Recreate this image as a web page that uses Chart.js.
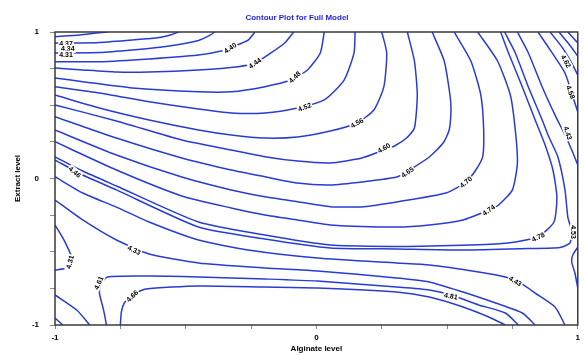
<!DOCTYPE html>
<html lang="en">
<head>
  <meta charset="UTF-8" />
  <title>Contour Plot for Full Model</title>
  <script src="https://cdn.jsdelivr.net/npm/chart.js@4"></script>
  <style>
    html, body { margin: 0; padding: 0; background: #fff; overflow: hidden; }
    canvas { display: block; }
  </style>
</head>
<body>
  <canvas id="contourChart" width="584" height="355"></canvas>
  <script>
    const titleText = "Contour Plot for Full Model";
    const xTitle = "Alginate level";
    const yTitle = "Extract level";
    const tickLabels = [-1, 0, 1];

    // contour lines as [alginate, extract] pairs
    const paths = [
      [[-1,0.968],[-0.905,0.980],[-0.841,0.993],[-0.799,1]],
      [[-1,0.925],[-0.905,0.925],[-0.83,0.928],[-0.705,0.945],[-0.602,0.962],[-0.553,0.983],[-0.527,1]],
      [[-1,0.857],[-0.83,0.86],[-0.705,0.877],[-0.576,0.901],[-0.451,0.942],[-0.405,0.98],[-0.39,1]],
      [[-1,0.797],[-0.83,0.797],[-0.64,0.816],[-0.451,0.843],[-0.364,0.87],[-0.318,0.901],[-0.261,0.945],[-0.235,1]],
      [[-1,0.754],[-0.894,0.741],[-0.765,0.727],[-0.64,0.727],[-0.451,0.741],[-0.299,0.763],[-0.235,0.788],[-0.174,0.857],[-0.121,0.925],[-0.087,1]],
      [[-1,0.686],[-0.894,0.661],[-0.705,0.618],[-0.451,0.592],[-0.326,0.592],[-0.197,0.627],[-0.098,0.672],[-0.034,0.741],[0.015,0.857],[0.03,1]],
      [[-1,0.627],[-0.83,0.584],[-0.64,0.524],[-0.451,0.474],[-0.326,0.447],[-0.197,0.447],[-0.072,0.481],[0.03,0.536],[0.106,0.672],[0.144,0.857],[0.148,1]],
      [[-1,0.57],[-0.83,0.481],[-0.64,0.399],[-0.451,0.331],[-0.326,0.297],[-0.197,0.276],[-0.072,0.283],[0.053,0.324],[0.155,0.379],[0.22,0.468],[0.258,0.625],[0.269,0.857],[0.25,1]],
      [[-1,0.502],[-0.765,0.393],[-0.515,0.263],[-0.326,0.195],[-0.197,0.149],[-0.072,0.119],[0.053,0.106],[0.174,0.14],[0.258,0.195],[0.299,0.222],[0.345,0.276],[0.375,0.345],[0.386,0.57],[0.375,0.802],[0.348,1]],
      [[-1,0.422],[-0.765,0.276],[-0.515,0.14],[-0.326,0.058],[-0.197,0.012],[-0.072,-0.031],[0.053,-0.044],[0.182,-0.022],[0.307,0.01],[0.356,0.058],[0.432,0.147],[0.485,0.242],[0.508,0.331],[0.515,0.468],[0.511,0.57],[0.489,0.802],[0.443,1]],
      [[-1,0.331],[-0.765,0.16],[-0.515,0.01],[-0.326,-0.078],[-0.197,-0.124],[-0.072,-0.158],[0.053,-0.192],[0.182,-0.192],[0.307,-0.16],[0.496,-0.099],[0.572,-0.024],[0.61,0.058],[0.636,0.147],[0.64,0.331],[0.629,0.57],[0.591,0.802],[0.527,1]],
      [[-1,0.251],[-0.765,0.058],[-0.515,-0.119],[-0.326,-0.201],[-0.197,-0.249],[-0.072,-0.283],[0.053,-0.317],[0.307,-0.331],[0.432,-0.317],[0.561,-0.283],[0.659,-0.215],[0.697,-0.181],[0.75,-0.078],[0.769,0.106],[0.761,0.331],[0.742,0.57],[0.693,0.802],[0.617,1]],
      [[-1,0.147],[-0.894,0.051],[-0.765,-0.051],[-0.451,-0.297],[-0.197,-0.386],[0.053,-0.454],[0.307,-0.464],[0.432,-0.461],[0.686,-0.447],[0.761,-0.433],[0.848,-0.399],[0.909,-0.297],[0.92,-0.126],[0.905,0.058],[0.875,0.229],[0.837,0.399],[0.788,0.625],[0.735,0.857],[0.705,1]],
      [[-1,0.126],[-0.894,0.024],[-0.765,-0.078],[-0.451,-0.331],[-0.197,-0.413],[0.053,-0.474],[0.307,-0.481],[0.561,-0.488],[0.811,-0.478],[0.932,-0.471],[0.97,-0.44],[0.977,-0.365],[0.962,-0.263],[0.951,-0.078],[0.924,0.147],[0.886,0.297],[0.864,0.399],[0.811,0.625],[0.761,0.857],[0.72,1]],
      [[1,-0.468],[0.981,-0.522],[0.977,-0.57],[0.989,-0.645],[1,-0.747]],
      [[-1,0.012],[-0.894,-0.099],[-0.765,-0.195],[-0.64,-0.297],[-0.451,-0.42],[-0.261,-0.488],[0.004,-0.543],[0.307,-0.577],[0.432,-0.59],[0.621,-0.638],[0.723,-0.672],[0.78,-0.713],[0.837,-0.782],[0.913,-0.877],[0.951,-1]],
      [[-1,-0.147],[-0.894,-0.283],[-0.765,-0.42],[-0.64,-0.515],[-0.451,-0.577],[-0.197,-0.611],[0.004,-0.631],[0.307,-0.679],[0.432,-0.706],[0.561,-0.775],[0.686,-0.85],[0.788,-0.918],[0.837,-1]],
      [[-1,-0.317],[-0.97,-0.406],[-0.951,-0.474],[-0.936,-0.536],[-0.936,-0.577],[-0.955,-0.611],[-1,-0.625]],
      [[-0.803,-1],[-0.814,-0.898],[-0.83,-0.782],[-0.826,-0.72],[-0.799,-0.672],[-0.64,-0.666],[-0.451,-0.672],[-0.197,-0.686],[0.004,-0.7],[0.307,-0.741],[0.432,-0.761],[0.515,-0.795],[0.621,-0.863],[0.723,-0.918],[0.773,-1]],
      [[-0.75,-1],[-0.746,-0.911],[-0.735,-0.85],[-0.705,-0.795],[-0.652,-0.754],[-0.451,-0.734],[-0.197,-0.741],[0.004,-0.747],[0.307,-0.775],[0.432,-0.809],[0.561,-0.877],[0.659,-0.945],[0.723,-1]],
      [[-1,-0.795],[-0.917,-0.898],[-0.867,-1]],
      [[-1,-0.952],[-0.97,-1]],
      [[0.769,1],[0.811,0.857],[0.864,0.625],[0.913,0.433],[0.951,0.297],[0.977,0.195],[1,0.092]],
      [[0.848,1],[0.902,0.857],[0.951,0.72],[0.989,0.515],[1,0.454]],
      [[0.894,1],[0.939,0.898],[0.977,0.788],[1,0.706]],
      [[0.928,1],[0.966,0.918],[1,0.836]],
      [[0.962,1],[1,0.925]]
    ];

    // contour level labels
    const labelText = ["4.37", "4.34", "4.31", "4.40", "4.44", "4.48", "4.52", "4.56", "4.60", "4.65", "4.70", "4.74", "4.78",
                       "4.46", "4.33", "4.31", "4.61", "4.66", "4.43", "4.81", "4.62", "4.58", "4.43", "4.53"];
    const labelX = [-0.958, -0.951, -0.958, -0.330, -0.235, -0.083, -0.045, 0.155, 0.258, 0.348, 0.572, 0.659, 0.848,
                    -0.924, -0.697, -0.943, -0.833, -0.705, 0.761, 0.515, 0.955, 0.973, 0.962, 0.985];
    const labelY = [0.922, 0.884, 0.846, 0.891, 0.788, 0.693, 0.488, 0.379, 0.208, 0.044, -0.024, -0.215, -0.399,
                    0.044, -0.488, -0.570, -0.713, -0.802, -0.700, -0.802, 0.800, 0.590, 0.310, -0.365];
    const labelAngle = [0, 0, 0, -35, -35, -45, -20, -30, -30, -35, -40, -35, -25,
                        40, 25, -75, -65, -45, 30, 10, 60, 70, 72, 90];

    const lineColor = "rgb(40, 60, 210)";

    const decorations = {
      id: "decorations",
      afterDatasetsDraw(chart) {
        const { ctx, chartArea: a, scales: { x, y } } = chart;
        ctx.save();
        ctx.font = 'bold 7px "Liberation Sans", Arial, sans-serif';
        ctx.textAlign = "center";
        ctx.textBaseline = "middle";
        labelText.forEach((t, i) => {
          ctx.save();
          ctx.translate(x.getPixelForValue(labelX[i]), y.getPixelForValue(labelY[i]));
          ctx.rotate(labelAngle[i] * Math.PI / 180);
          const w = ctx.measureText(t).width;
          ctx.fillStyle = "#fff";
          ctx.fillRect(-w / 2 - 1, -4, w + 2, 8);
          ctx.fillStyle = "#000";
          ctx.fillText(t, 0, 0.5);
          ctx.restore();
        });

        // frame round the plot
        ctx.strokeStyle = "#3a3a3a";
        ctx.lineWidth = 1.5;
        ctx.strokeRect(a.left, a.top, a.right - a.left, a.bottom - a.top);

        ctx.fillStyle = "#1c1ce8";
        ctx.font = 'bold 8px "Liberation Sans", Arial, sans-serif';
        ctx.fillText(titleText, 297, 18);
        ctx.restore();
      }
    };

    const tickFont = { family: '"Liberation Sans", Arial, sans-serif', size: 8, weight: "bold" };
    const titleFont = { family: '"Liberation Sans", Arial, sans-serif', size: 8, weight: "bold" };

    new Chart(document.getElementById("contourChart"), {
      type: "scatter",
      data: {
        datasets: paths.map(p => ({
          data: p.map(([x, y]) => ({ x, y })),
          showLine: true,
          pointRadius: 0,
          borderColor: lineColor,
          borderWidth: 1.5,
          tension: 0.2,
          fill: false
        }))
      },
      options: {
        responsive: false,
        animation: false,
        devicePixelRatio: 1,
        events: [],
        layout: { padding: { top: 32, right: 1, bottom: 0, left: 0 } },
        plugins: { legend: { display: false }, tooltip: { enabled: false } },
        scales: {
          x: {
            type: "linear", min: -1, max: 1,
            ticks: {
              stepSize: 0.25, autoSkip: false, maxRotation: 0, padding: 4,
              color: "#000", font: tickFont,
              callback: v => tickLabels.includes(v) ? String(v) : ""
            },
            grid: { drawOnChartArea: false, tickLength: 4, color: "#888" },
            border: { display: false },
            title: { display: true, text: xTitle, color: "#000", font: titleFont, padding: { top: 0, bottom: 1 } },
            afterFit: s => { s.height = 30; }
          },
          y: {
            type: "linear", min: -1, max: 1,
            ticks: {
              stepSize: 0.25, autoSkip: false, padding: 11,
              color: "#000", font: tickFont,
              callback: v => tickLabels.includes(v) ? String(v) : ""
            },
            grid: { drawOnChartArea: false, tickLength: 5, color: "#888" },
            border: { display: false },
            title: { display: true, text: yTitle, color: "#000", font: titleFont, padding: { top: 13, bottom: 0 } },
            afterFit: s => { s.width = 55; }
          }
        }
      },
      plugins: [decorations]
    });
  </script>
</body>
</html>
